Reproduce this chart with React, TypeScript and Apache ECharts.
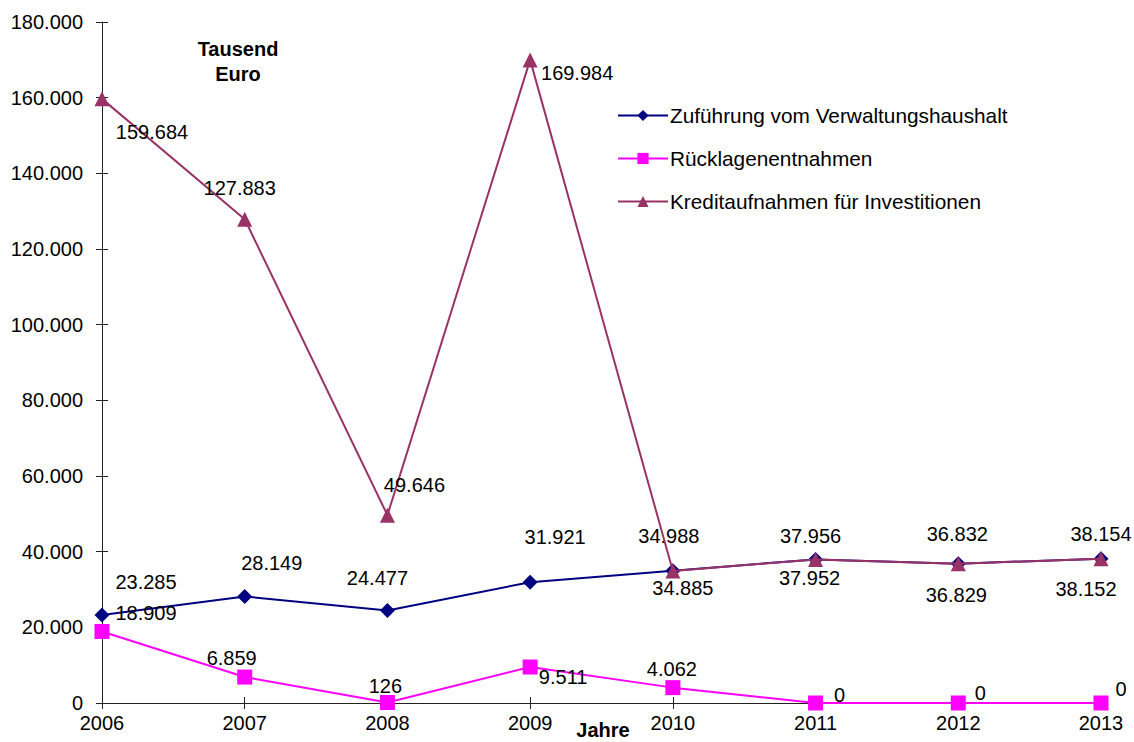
import React, { useEffect, useRef } from "react";
import * as echarts from "echarts";

const years = ["2006", "2007", "2008", "2009", "2010", "2011", "2012", "2013"];
const zufuehrung = [23285, 28149, 24477, 31921, 34988, 37956, 36832, 38154];
const ruecklagen = [18909, 6859, 126, 9511, 4062, 0, 0, 0];
const kredit = [159684, 127883, 49646, 169984, 34885, 37952, 36829, 38152];
const seriesNames = [
  "Zuführung vom Verwaltungshaushalt",
  "Rücklagenentnahmen",
  "Kreditaufnahmen für Investitionen",
];

// label offsets (styling only)
const offZ = [[44, -33], [27, -34], [-10, -32], [25, -45], [-4, -35], [-5, -23], [-1, -30], [0, -25]];
const offR = [[44, -18], [-13, -19], [-2, -17], [33, 10], [-1, -19], [24, -8], [22, -10], [20, -14]];
const offK = [[50, 33], [-5, -31], [27, -30], [47, 13], [10, 17], [-6, 19], [-2, 31], [-15, 30]];

const fmt = (v: number) => String(Math.round(v)).replace(/\B(?=(\d{3})+(?!\d))/g, ".");
const FONT = "Liberation Sans, Arial, sans-serif";
const FS = 20;

function mk(values: number[], offs: number[][]) {
  return values.map((v, i) => ({
    value: v,
    label: { offset: offs[i] },
  }));
}

export default function App() {
  const ref = useRef<HTMLDivElement>(null);
  useEffect(() => {
    if (!ref.current) return;
    const chart = echarts.init(ref.current, null, { renderer: "svg" });
    const labelBase = {
      show: true,
      position: "inside",
      color: "#000",
      fontSize: FS,
      fontFamily: FONT,
      formatter: (p: any) => fmt(p.value),
    };
    chart.setOption({
      animation: false,
      backgroundColor: "#fff",
      textStyle: { fontFamily: FONT },
      grid: { left: 102, right: 33, top: 22, bottom: 39, containLabel: false },
      legend: {
        show: true,
        orient: "vertical",
        left: 612,
        top: 99,
        itemWidth: 50,
        itemHeight: 14,
        itemGap: 20,
        data: seriesNames,
        textStyle: { fontSize: 20.8, fontFamily: FONT, color: "#000", lineHeight: 23, padding: [0, 0, 0, -3] },
      },
      graphic: [
        {
          type: "text",
          x: 238,
          y: 36,
          style: {
            text: "Tausend\nEuro",
            align: "center",
            verticalAlign: "top",
            font: `bold ${FS}px ${FONT}`,
            fill: "#000",
            lineHeight: 25,
          },
        },
        {
          type: "text",
          x: 603,
          y: 720,
          style: {
            text: "Jahre",
            align: "center",
            verticalAlign: "top",
            font: `bold ${FS}px ${FONT}`,
            fill: "#000",
          },
        },
      ],
      xAxis: [
        {
          type: "category",
          data: years,
          boundaryGap: false,
          axisLine: { lineStyle: { color: "#222", width: 1 } },
          axisTick: { show: true, length: 6, alignWithLabel: true, lineStyle: { color: "#222" } },
          axisLabel: { color: "#000", fontSize: FS, fontFamily: FONT, margin: 10 },
          splitLine: { show: false },
        },
        {
          type: "category",
          data: years,
          boundaryGap: false,
          position: "bottom",
          axisLine: { show: false },
          axisTick: { show: true, inside: true, length: 6, lineStyle: { color: "#222" } },
          axisLabel: { show: false },
          splitLine: { show: false },
        },
      ],
      yAxis: [
        {
          type: "value",
          min: 0,
          max: 180000,
          interval: 20000,
          axisLine: { show: true, lineStyle: { color: "#222", width: 1 } },
          axisTick: { show: true, length: 6, lineStyle: { color: "#222" } },
          axisLabel: { color: "#000", fontSize: FS, fontFamily: FONT, margin: 19, formatter: (v: number) => fmt(v) },
          splitLine: { show: false },
        },
        {
          type: "value",
          min: 0,
          max: 180000,
          interval: 20000,
          position: "left",
          axisLine: { show: false },
          axisTick: { show: true, inside: true, length: 6, lineStyle: { color: "#222" } },
          axisLabel: { show: false },
          splitLine: { show: false },
        },
      ],
      series: [
        {
          name: seriesNames[0],
          type: "line",
          data: mk(zufuehrung, offZ),
          symbol: "diamond",
          symbolSize: 15,
          color: "#000080",
          lineStyle: { color: "#000080", width: 2 },
          itemStyle: { color: "#000080" },
          label: labelBase,
          z: 2,
        },
        {
          name: seriesNames[1],
          type: "line",
          data: mk(ruecklagen, offR),
          symbol: "rect",
          symbolSize: 15,
          color: "#FF00FF",
          lineStyle: { color: "#FF00FF", width: 2 },
          itemStyle: { color: "#FF00FF" },
          label: labelBase,
          z: 3,
        },
        {
          name: seriesNames[2],
          type: "line",
          data: mk(kredit, offK),
          symbol: "triangle",
          symbolSize: 15,
          color: "#993366",
          lineStyle: { color: "#993366", width: 2 },
          itemStyle: { color: "#993366" },
          label: labelBase,
          z: 4,
        },
      ],
    });
    return () => chart.dispose();
  }, []);
  return (
    <div
      ref={ref}
      style={{ position: "fixed", left: 0, top: 0, width: 1134, height: 742 }}
    />
  );
}
